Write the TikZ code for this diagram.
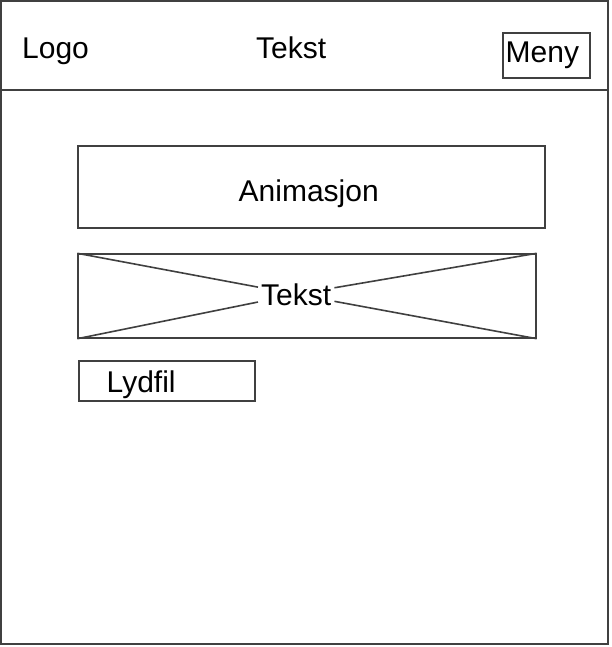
\documentclass[tikz,border=0pt]{standalone}
\usepackage{fontspec}
\setmainfont{Liberation Sans}
\usetikzlibrary{
  positioning, % for relative placement
}
\tikzset{
  frame/.style={ % style for the outer screen frame
    draw=black!75, % dark grey outline
    line width=2pt, % a bit heavier than the boxes
  },
  box/.style={ % style for the content boxes
    rectangle,draw=black!75, % drawn as a plain rectangle
    line width=1.4pt, % thin outline
    inner sep=0pt, % no padding, sizes set by hand
  },
  txt/.style={ % style for the labels
    anchor=base west, % placed by the start of the baseline
    inner sep=0pt, % no padding around the text
    font=\fontsize{30}{32}\selectfont, % large sans text
  },
  cross/.style={ % style for the lines of the placeholder cross
    draw=black!75,
    line width=1.6pt,
  },
}

\begin{document}
\begin{tikzpicture}[x=1pt,y=-1pt]
	\useasboundingbox (0,0) rectangle (611,647);
	
	% screen and header
	\draw[frame] (1,1) rectangle (608,644);
	\draw[frame] (1,90) -- (608,90);
	
	\node[txt] (logo) at (22,59) {Logo};
	\node[txt] (title) at (256,59) {Tekst};
	\node[box, minimum width=87, minimum height=45] (menu) at (546.5,55.5) {};
	\node[txt] (menutext) at (505.5,63) {Meny};
	
	% content
	\node[box, minimum width=467, minimum height=82] (anim) at (311.5,187) {};
	\node[txt] (animtext) at (238.5,201) {Animasjon};
	
	\node[box, minimum width=458, minimum height=84] (image) at (307,296) {};
	\node[txt, inner sep=3pt] (imagetext) at (258,305) {Tekst};
	
	\node[box, minimum width=176, minimum height=40] (audio) at (167,381) {};
	\node[txt] (audiotext) at (106.5,392) {Lydfil};
	
	\path[cross] (image.north west) -- (imagetext)
			(image.south west) -- (imagetext)
			(image.north east) -- (imagetext)
			(image.south east) -- (imagetext);
\end{tikzpicture}
\end{document}
